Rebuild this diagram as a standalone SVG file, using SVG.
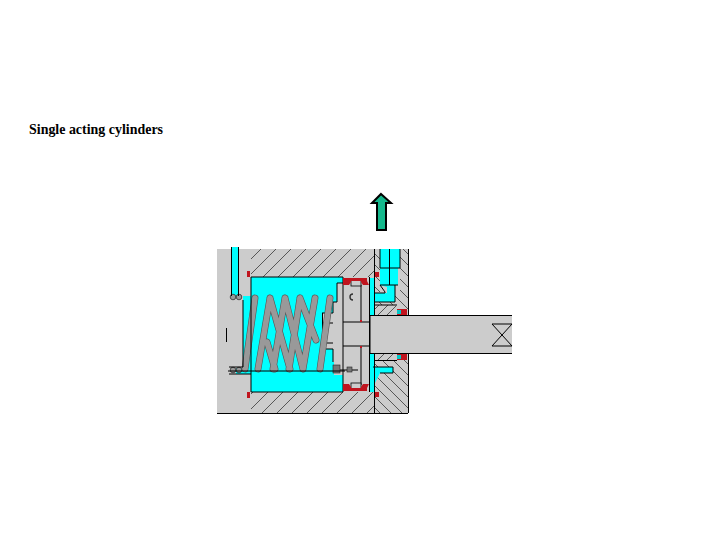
<svg xmlns="http://www.w3.org/2000/svg" width="720" height="540" viewBox="0 0 720 540">
<style>
.g{fill:#cccccc}.c{fill:#00ffff}.r{fill:#c0141e}
.k{fill:none;stroke:#000;stroke-width:1}
.sb{fill:none;stroke:#555;stroke-width:6.800;stroke-linecap:round}
.s{fill:none;stroke:#999;stroke-width:5.600;stroke-linecap:round}
.kn{fill:#999;stroke:#333;stroke-width:.8}
.d{fill:#777;stroke:#222;stroke-width:.6}
</style>
<defs>
<pattern id="h1" width="15" height="15" patternUnits="userSpaceOnUse">
<path d="M-1 16L16 -1" stroke="#222" stroke-width=".7" fill="none"/>
</pattern>
<pattern id="h2" width="11" height="11" patternUnits="userSpaceOnUse">
<path d="M-1 -1L12 12" stroke="#222" stroke-width=".7" fill="none"/>
</pattern>
<pattern id="h3" width="9" height="9" patternUnits="userSpaceOnUse">
<path d="M-1 10L10 -1" stroke="#222" stroke-width=".7" fill="none"/>
</pattern>
</defs>
<rect width="720" height="540" fill="#fff"/>
<text x="29" y="134" font-family="'Liberation Serif',serif" font-size="15" font-weight="bold" textLength="134" lengthAdjust="spacingAndGlyphs" fill="#000">Single acting cylinders</text>
<path id="arrow" d="M381 194L391 203H386V230H377V203H372Z" fill="#14b88c" stroke="#000" stroke-width="2"/>

<rect class="g" x="217" y="249" width="191" height="164"/>
<rect x="251" y="249" width="123" height="28" fill="url(#h1)"/>
<rect x="251" y="392" width="123" height="21" fill="url(#h1)"/>
<path d="M374 249H408V315H374ZM374 353H408V413H374Z" fill="url(#h2)"/>
<rect class="g" x="374" y="305" width="24" height="10"/>
<rect class="g" x="374" y="353" width="24" height="8"/>
<rect x="374" y="305" width="22" height="10" fill="url(#h3)"/>
<rect x="374" y="353" width="22" height="7" fill="url(#h3)"/>

<rect class="c" x="251" y="277" width="92" height="115"/>
<rect class="c" x="243" y="296" width="8" height="76"/>
<rect class="c" x="232" y="247" width="6" height="50"/>
<rect class="c" x="236" y="368" width="15" height="6"/>
<rect class="c" x="370" y="278" width="4" height="114"/>
<path class="g" d="M380 249H400V293H380Z"/>
<path d="M380 249H400V268H398V285H395V302H375V293H387V287L380 285Z" class="c"/>
<path class="c" d="M373 367H393V373H380L375 383H373Z"/>

<g id="piston">
<path class="g" d="M322 313H333V302H337V283H343V277H370V392H343V375H334V362H333V349H322Z"/>
<path class="k" d="M343 277V392M369.500 277V392M361 285V322M361 346V385M343 322H370M343 346H370"/>
<path class="k" d="M322.500 313V349M322 313H333V302H337V283H343M322 349H333V362M322 323H333M322 343H333M337 370H358"/>
<rect class="g" x="351" y="280" width="10" height="6" stroke="#000" stroke-width=".8"/>
<rect class="g" x="351" y="383" width="10" height="6" stroke="#000" stroke-width=".8"/>
<path d="M353 294A3 3 0 1 0 353 300" fill="none" stroke="#333" stroke-width="1.400"/>
<rect class="d" x="333" y="365" width="7" height="8"/>
<rect class="d" x="347" y="367" width="5" height="5"/>
</g>

<g id="spring">
<path class="sb" d="M245 369L255 298M258 369L270 298M273 369L285 298M289 369L300 298M303 369L315 298M320 369L330 298M270 298L290 369M285 298L303 369M300 298L316 340M267 342L275 369"/>
<path class="s" d="M245 369L255 298M270 298L290 369M285 298L303 369M300 298L316 340M267 342L275 369M258 369L270 298M273 369L285 298M289 369L300 298M303 369L315 298M320 369L330 298"/>
<circle class="kn" cx="233" cy="297" r="2.800"/><circle class="kn" cx="239" cy="297" r="2.800"/>
<circle class="kn" cx="233" cy="370" r="2.800"/><circle class="kn" cx="239" cy="370" r="2.800"/>
</g>

<g id="seals">
<path class="r" d="M343 278H367V281L369 285H363L361 282V281H351V282L349 285H343V282Z"/>
<path class="r" d="M343 391H367V388L369 384H363L361 387V388H351V387L349 384H343V387Z"/>
<rect class="r" x="247" y="271" width="3" height="6"/><rect class="r" x="247" y="392" width="3" height="6"/>
<rect class="r" x="375" y="272" width="4" height="5"/><rect class="r" x="375" y="392" width="4" height="5"/>
<path class="r" d="M397 309H407V315H397ZM397 353H407V360H397Z"/>
<rect x="397" y="310" width="4" height="4" fill="#00c8c8"/><rect x="397" y="355" width="4" height="4" fill="#00c8c8"/>
<rect class="r" x="360" y="320" width="2" height="2"/><rect class="r" x="360" y="346" width="2" height="2"/>
</g>

<g id="rod">
<rect class="g" x="370" y="315" width="142" height="38"/>
<path class="k" d="M512 315.500H370V353.500H512"/>
<path class="k" d="M512 324H492L512 346H492L512 324"/>
</g>

<g id="outline">
<path class="k" d="M251 277V392M251 277H343M251 392H343M374.500 249V315M374.500 353V413M408.500 249V315M408.500 353V413M217 413.500H408"/>
<path class="k" d="M231.500 247V296M238.500 247V296M243 300V367M228 371H345M226.500 328V342M374 305H397M374 360.500H397"/>
<path class="k" d="M380 249V268M400 249V268H380M389.500 249V285M380 285H398M380 285L385 292V293H375M395 285V302H375M373 367H393V373H380"/>
<path class="k" d="M229 367H243M229 374H251"/>
</g>
</svg>
